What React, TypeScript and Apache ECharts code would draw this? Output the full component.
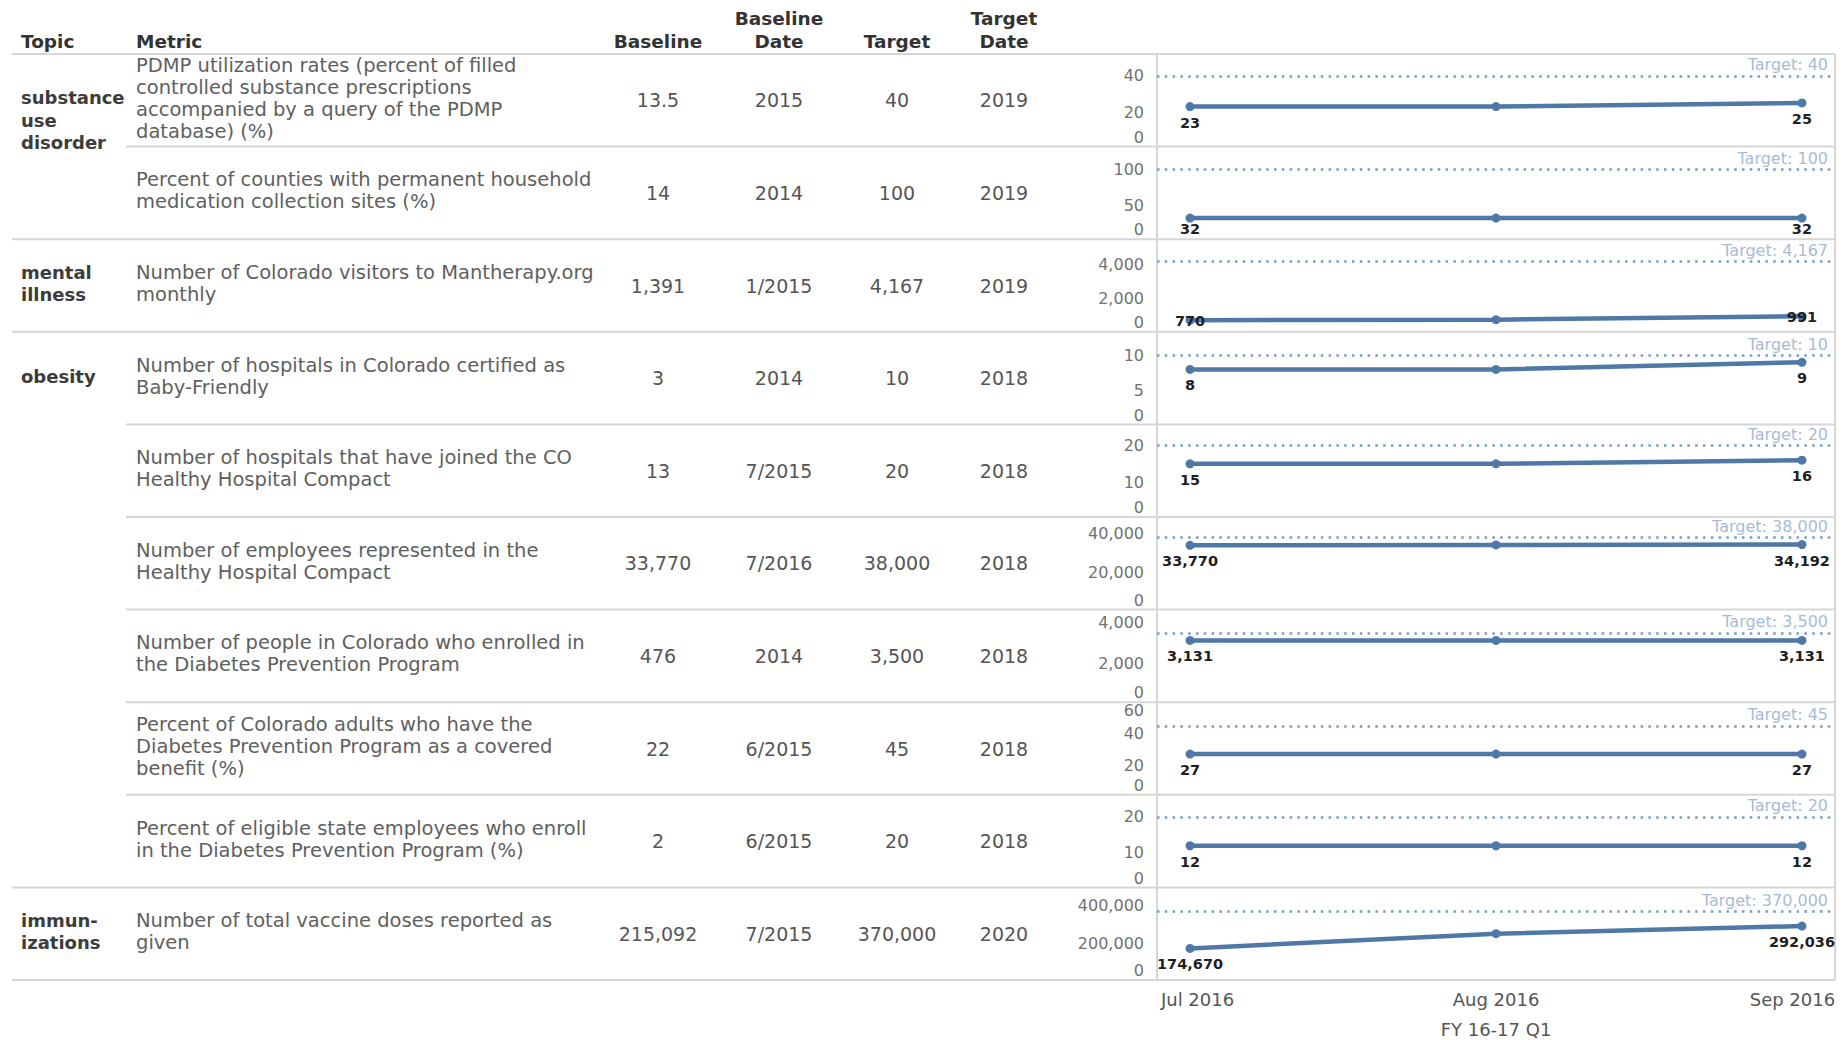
import React, { useEffect, useRef } from 'react';
import * as echarts from 'echarts';

// ---------------- data ----------------
const headerLabels = ['Topic', 'Metric', 'Baseline', 'Baseline\nDate', 'Target', 'Target\nDate'];

const topicNames = [
  ['substance', 'use', 'disorder'],
  ['mental', 'illness'],
  ['obesity'],
  ['immun-', 'izations'],
];
const topicRowCounts = [2, 1, 6, 1];

const metricLines = [
  ['PDMP utilization rates (percent of filled', 'controlled substance prescriptions', 'accompanied by a query of the PDMP', 'database) (%)'],
  ['Percent of counties with permanent household', 'medication collection sites (%)'],
  ['Number of Colorado visitors to Mantherapy.org', 'monthly'],
  ['Number of hospitals in Colorado certified as', 'Baby-Friendly'],
  ['Number of hospitals that have joined the CO', 'Healthy Hospital Compact'],
  ['Number of employees represented in the', 'Healthy Hospital Compact'],
  ['Number of people in Colorado who enrolled in', 'the Diabetes Prevention Program'],
  ['Percent of Colorado adults who have the', 'Diabetes Prevention Program as a covered', 'benefit (%)'],
  ['Percent of eligible state employees who enroll', 'in the Diabetes Prevention Program (%)'],
  ['Number of total vaccine doses reported as', 'given'],
];

const baselines = [13.5, 14, 1391, 3, 13, 33770, 476, 22, 2, 215092];
const baselineDates = ['2015', '2014', '1/2015', '2014', '7/2015', '7/2016', '2014', '6/2015', '6/2015', '7/2015'];
const targets = [40, 100, 4167, 10, 20, 38000, 3500, 45, 20, 370000];
const targetDates = ['2019', '2019', '2019', '2018', '2018', '2018', '2018', '2018', '2018', '2020'];

const months = ['Jul 2016', 'Aug 2016', 'Sep 2016'];
const periodLabel = 'FY 16-17 Q1';

const julValues = [23, 32, 770, 8, 15, 33770, 3131, 27, 12, 174670];
const augValues = [23, 32, 800, 8, 15, 33981, 3131, 27, 12, 252000];
const sepValues = [25, 32, 991, 9, 16, 34192, 3131, 27, 12, 292036];

// y-axis scale per row
const axisMax = [52, 132, 5450, 13.3, 25.8, 48300, 4650, 60, 26.1, 495000];
const axisStep = [20, 50, 2000, 5, 10, 20000, 2000, 20, 10, 200000];

// ---------------- layout ----------------
const FONT = 'DejaVu Sans';
const TABLE_TOP = 54;
const ROW_H = 92.6;
const PANE_L = 1157;
const PANE_R = 1835;
const TABLE_L = 12;
const SUB_L = 126;
const X_PAD = 0.108;
const COL_X = [21, 136, 658, 779, 897, 1004];
const topicShift = [20, -2, -2, -2];
const labelLift = [0, 5, 15, 0, 0, 0, 0, 0, 0, 0];

const BLUE = '#4e79a7';
const GRID_LINE = '#d6d6d6';

const fmt = (v: number) => v.toLocaleString('en-US');

function buildOption() {
  const n = metricLines.length;
  const rowTop = (i: number) => TABLE_TOP + i * ROW_H;
  const rowMid = (i: number) => rowTop(i) + ROW_H / 2;

  const grids: any[] = [];
  const xAxes: any[] = [];
  const yAxes: any[] = [];
  const series: any[] = [];
  const axisTxt = { fontSize: 16, color: '#717171', fontFamily: FONT };

  for (let i = 0; i < n; i++) {
    grids.push({ left: PANE_L, top: rowTop(i), width: PANE_R - PANE_L, height: ROW_H + 1.7 });
    xAxes.push({ gridIndex: i, type: 'value', min: -X_PAD, max: months.length - 1 + X_PAD, show: false });
    const max = axisMax[i];
    const step = axisStep[i];
    yAxes.push({
      gridIndex: i,
      type: 'value',
      min: 0,
      max,
      interval: step,
      axisLine: { show: false },
      axisTick: { show: false },
      splitLine: { show: false },
      axisLabel: {
        margin: 13,
        formatter: (v: number) => {
          if (Math.abs(v / step - Math.round(v / step)) > 1e-6) return '';
          const s = fmt(v);
          if (v === 0) return `{lo|${s}}`;
          if (Math.abs(v - max) < 1e-6) return `{hi|${s}}`;
          return `{n|${s}}`;
        },
        rich: {
          n: { ...axisTxt },
          lo: { ...axisTxt, padding: [0, 0, 22, 0] },
          hi: { ...axisTxt, padding: [16, 0, 0, 0] },
        },
      },
    });
    const vals = [julValues[i], augValues[i], sepValues[i]];
    series.push({
      type: 'line',
      xAxisIndex: i,
      yAxisIndex: i,
      symbol: 'circle',
      symbolSize: 9,
      lineStyle: { width: 4.5, color: BLUE },
      itemStyle: { color: BLUE },
      emphasis: { disabled: true },
      label: {
        show: false,
        position: 'bottom',
        distance: 4,
        offset: [0, -labelLift[i]],
        fontSize: 14.5,
        fontWeight: 'bold',
        fontFamily: FONT,
        color: '#1f1f1f',
        formatter: (p: any) => fmt(p.value[1]),
      },
      data: vals.map((v, j) => ({ value: [j, v], label: { show: j === 0 || j === vals.length - 1 } })),
      markLine: {
        silent: true,
        symbol: ['none', 'none'],
        data: [{ yAxis: targets[i] }],
        lineStyle: { type: [2.5, 5.3], width: 2.5, color: '#7b9bc5', cap: 'butt' },
        label: {
          position: 'insideEndTop',
          distance: [7, 3],
          formatter: 'Target: ' + fmt(targets[i]),
          color: '#a7bbd7',
          fontSize: 16,
          fontFamily: FONT,
        },
        emphasis: { disabled: true },
      },
    });
  }

  // month axis (shared, under the last row)
  const span = months.length - 1 + 2 * X_PAD;
  const px = (PANE_R - PANE_L) / span;
  const monthTxt = { fontSize: 18, color: '#555555', fontFamily: FONT };
  grids.push({ left: PANE_L + X_PAD * px, width: (months.length - 1) * px, top: rowTop(n - 1), height: ROW_H });
  xAxes.push({
    gridIndex: n,
    type: 'category',
    data: months,
    boundaryGap: false,
    axisLine: { show: false },
    axisTick: { show: false },
    splitLine: { show: false },
    axisLabel: {
      margin: 10,
      interval: 0,
      formatter: (v: string, idx: number) =>
        idx === 0 ? `{l|${v}}` : idx === months.length - 1 ? `{r|${v}}` : `{m|${v}}`,
      rich: {
        l: { ...monthTxt, padding: [0, 0, 0, 15] },
        m: { ...monthTxt },
        r: { ...monthTxt, padding: [0, 19, 0, 0] },
      },
    },
    name: periodLabel,
    nameLocation: 'middle',
    nameGap: 40,
    nameTextStyle: { ...monthTxt },
  });
  yAxes.push({ gridIndex: n, type: 'value', show: false });

  // ---------- table graphics ----------
  const g: any[] = [];
  const hline = (y: number, x1: number, x2: number) =>
    g.push({ type: 'line', silent: true, shape: { x1, y1: y, x2, y2: y }, style: { stroke: GRID_LINE, lineWidth: 2 } });
  const vline = (x: number, y1: number, y2: number) =>
    g.push({ type: 'line', silent: true, shape: { x1: x, y1, x2: x, y2 }, style: { stroke: GRID_LINE, lineWidth: 2 } });

  hline(TABLE_TOP, TABLE_L, PANE_R);
  const groupEnds: number[] = [];
  let acc = 0;
  topicRowCounts.forEach((c) => {
    acc += c;
    groupEnds.push(acc);
  });
  for (let k = 1; k <= n; k++) {
    hline(rowTop(k), groupEnds.includes(k) ? TABLE_L : SUB_L, PANE_R);
  }
  vline(PANE_L, TABLE_TOP, rowTop(n));
  vline(PANE_R, TABLE_TOP, rowTop(n));

  const text = (t: string, x: number, y: number, opts: any) =>
    g.push({
      type: 'text',
      silent: true,
      style: {
        text: t,
        x,
        y,
        fontFamily: FONT,
        verticalAlign: 'middle',
        ...opts,
      },
    });

  // headers
  headerLabels.forEach((h, c) => {
    const lines = h.split('\n');
    lines.forEach((ln, k) => {
      const y = 41 - (lines.length - 1 - k) * 22.3;
      text(ln, COL_X[c], y, {
        fontSize: 18.5,
        fontWeight: 'bold',
        fill: '#333333',
        align: c < 2 ? 'left' : 'center',
      });
    });
  });

  // topics
  let start = 0;
  topicNames.forEach((lines, gi) => {
    const cy = rowMid(start) + topicShift[gi];
    text(lines.join('\n'), COL_X[0], cy, {
      fontSize: 18,
      fontWeight: 'bold',
      fill: '#3c3c3c',
      align: 'left',
      lineHeight: 22.4,
    });
    start += topicRowCounts[gi];
  });

  // metric rows
  for (let i = 0; i < n; i++) {
    const cy = rowMid(i);
    text(metricLines[i].join('\n'), COL_X[1], cy - 2, {
      fontSize: 19.5,
      fill: '#606060',
      align: 'left',
      lineHeight: 22,
    });
    const cells = [fmt(baselines[i]), baselineDates[i], fmt(targets[i]), targetDates[i]];
    cells.forEach((s, c) => {
      text(s, COL_X[c + 2], cy, { fontSize: 19, fill: '#555555', align: 'center' });
    });
  }

  return {
    animation: false,
    backgroundColor: '#ffffff',
    grid: grids,
    xAxis: xAxes,
    yAxis: yAxes,
    series,
    graphic: g,
  };
}

export default function App() {
  const ref = useRef<HTMLDivElement>(null);
  useEffect(() => {
    if (!ref.current) return;
    const chart = echarts.init(ref.current, null, { renderer: 'svg' });
    chart.setOption(buildOption() as any);
    return () => chart.dispose();
  }, []);
  return (
    <div
      ref={ref}
      style={{ position: 'fixed', left: 0, top: 0, width: 1848, height: 1040, background: '#ffffff' }}
    />
  );
}
